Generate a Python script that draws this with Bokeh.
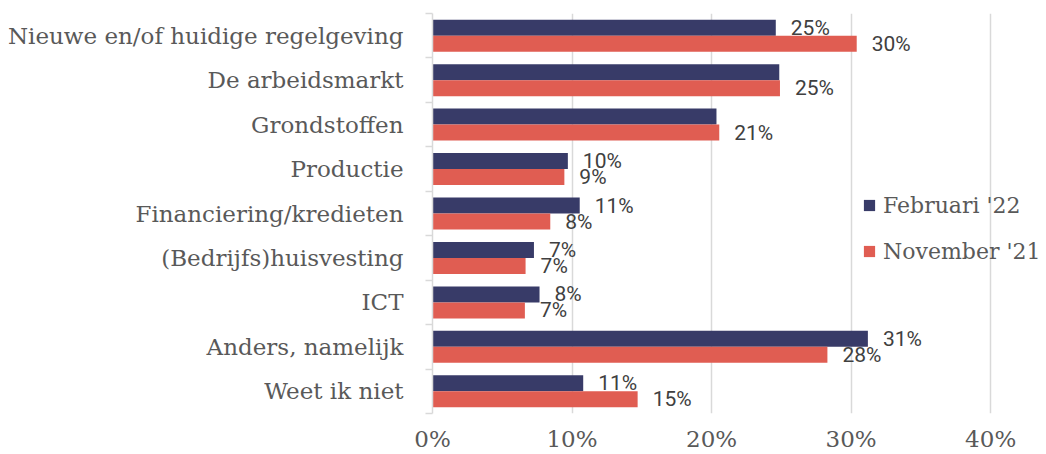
import numpy as np
from bokeh.plotting import figure
from bokeh.models import Range1d, FixedTicker, NumeralTickFormatter, ColumnDataSource, Legend, LegendItem
from bokeh.core.properties import value
from bokeh.embed import file_html
from bokeh.resources import INLINE

categories = ["Nieuwe en/of huidige regelgeving", "De arbeidsmarkt", "Grondstoffen",
              "Productie", "Financiering/kredieten", "(Bedrijfs)huisvesting", "ICT",
              "Anders, namelijk", "Weet ik niet"]
feb22 = [0.246, 0.2485, 0.2035, 0.097, 0.1055, 0.0727, 0.0767, 0.312, 0.108]
nov21 = [0.304, 0.249, 0.2055, 0.0945, 0.0844, 0.0667, 0.0662, 0.283, 0.147]
feb_label_shown = [True, False, False, True, True, True, True, True, True]
nov_label_shown = [True, True, True, True, True, True, True, True, True]
series_names = ["Februari '22", "November '21"]
x_ticks = [0, 0.1, 0.2, 0.3, 0.4]

NAVY = "#383B68"
RED = "#E05D52"
GRID = "#D9D9D9"
SERIF = "DejaVu Serif"

n = len(categories)
idx = np.arange(n)
bar_h = 0.36
y_feb = idx - bar_h / 2
y_nov = idx + bar_h / 2

p = figure(width=1046, height=454, output_backend="svg", toolbar_location=None,
           x_range=Range1d(0, 0.44), y_range=Range1d(n - 0.5, -0.5),
           min_border_left=432, min_border_right=0, min_border_top=13, min_border_bottom=41)
p.outline_line_color = None
p.background_fill_color = "white"
p.border_fill_color = "white"

src_feb = ColumnDataSource(dict(y=y_feb, v=feb22))
src_nov = ColumnDataSource(dict(y=y_nov, v=nov21))
r_feb = p.hbar(y="y", left=0, right="v", height=bar_h, source=src_feb, fill_color=NAVY, line_color=None)
r_nov = p.hbar(y="y", left=0, right="v", height=bar_h, source=src_nov, fill_color=RED, line_color=None)

def lbl(vals, ys, shown):
    xs = [v for v, s in zip(vals, shown) if s]
    yy = [y for y, s in zip(ys, shown) if s]
    tt = [f"{round(v * 100)}%" for v, s in zip(vals, shown) if s]
    return ColumnDataSource(dict(x=xs, y=yy, t=tt))

for vals, ys, shown in [(feb22, y_feb, feb_label_shown), (nov21, y_nov, nov_label_shown)]:
    p.text(x="x", y="y", text="t", source=lbl(vals, ys, shown), x_offset=15,
           text_align="left", text_baseline="middle", text_font=value("Roboto"),
           text_font_size="21px", text_color="#404040")

# x axis
p.xaxis.ticker = FixedTicker(ticks=x_ticks)
p.xaxis.formatter = NumeralTickFormatter(format="0%")
p.xaxis.axis_line_color = None
p.xaxis.major_tick_line_color = None
p.xaxis.minor_tick_line_color = None
p.xaxis.major_tick_out = 0
p.xaxis.major_tick_in = 0
p.xaxis.major_label_text_font = SERIF
p.xaxis.major_label_text_font_size = "23px"
p.xaxis.major_label_text_color = "#595959"
p.xaxis.major_label_standoff = 12
p.xgrid.ticker = FixedTicker(ticks=x_ticks)
p.xgrid.grid_line_color = GRID
p.xgrid.grid_line_width = 1.5
p.ygrid.grid_line_color = None

# y axis
p.yaxis.ticker = FixedTicker(ticks=list(idx), minor_ticks=list(np.arange(n + 1) - 0.5))
p.yaxis.major_label_overrides = {int(i): c for i, c in enumerate(categories)}
p.yaxis.axis_line_color = GRID
p.yaxis.axis_line_width = 1.5
p.yaxis.major_tick_line_color = None
p.yaxis.major_tick_out = 0
p.yaxis.major_tick_in = 0
p.yaxis.minor_tick_line_color = GRID
p.yaxis.minor_tick_line_width = 1.5
p.yaxis.minor_tick_out = 7
p.yaxis.minor_tick_in = 0
p.yaxis.major_label_text_font = SERIF
p.yaxis.major_label_text_font_size = "23px"
p.yaxis.major_label_text_color = "#595959"
p.yaxis.major_label_standoff = 22

legend = Legend(items=[LegendItem(label=series_names[0], renderers=[r_feb]),
                       LegendItem(label=series_names[1], renderers=[r_nov])],
                location=(430, 148), orientation="vertical")
legend.glyph_width = 14
legend.glyph_height = 14
legend.label_standoff = 7
legend.label_text_font = SERIF
legend.label_text_font_size = "22px"
legend.label_text_color = "#595959"
legend.label_height = 28
legend.spacing = 18
legend.padding = 0
legend.margin = 0
legend.border_line_color = None
legend.background_fill_alpha = 0
p.add_layout(legend, "center")

open("out.html", "w").write(file_html(p, INLINE))
